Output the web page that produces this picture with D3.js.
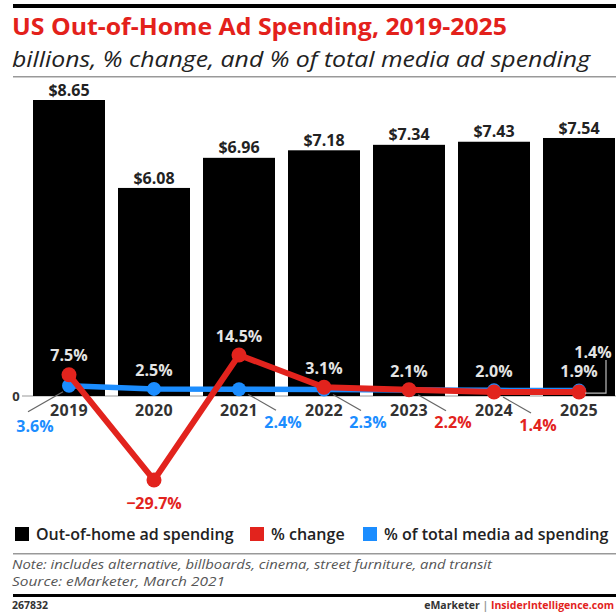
<!DOCTYPE html>
<html>
<head>
<meta charset="utf-8">
<script src="https://cdn.jsdelivr.net/npm/d3@7"></script>
<style>
  body { margin: 0; background: #fff; }
  svg { display: block; font-family: "Open Sans", sans-serif; }
</style>
</head>
<body>
<script>
// chart values
var years = ['2019', '2020', '2021', '2022', '2023', '2024', '2025'];
var spending = [8.65, 6.08, 6.96, 7.18, 7.34, 7.43, 7.54];
var pctChange = [7.5, -29.7, 14.5, 3.1, 2.2, 1.4, 1.4];
var pctTotal = [3.6, 2.5, 2.4, 2.3, 2.1, 2.0, 1.9];
var yTicks = [0];
var legendLabels = ['Out-of-home ad spending', '% change', '% of total media ad spending'];

// where each point label goes
var changePlace = ['above', 'below', 'above', 'above', 'right', 'right', 'bracket'];
var totalPlace = ['left', 'above', 'right', 'right', 'above', 'above', 'above'];

var width = 616, height = 612;
var red = '#e2231d', blue = '#1b8dff', light = '#e4e4e4';
var lblSize = '16px';

var svg = d3.select('body').append('svg')
    .attr('width', width)
    .attr('height', height);

// header
svg.append('rect').attr('x', 13).attr('y', 4).attr('width', width - 13).attr('height', 4).attr('fill', '#000');
svg.append('text')
    .attr('x', 12).attr('y', 35)
    .attr('fill', '#e3211b')
    .attr('textLength', 495).attr('lengthAdjust', 'spacingAndGlyphs')
    .style('font-size', '23px').style('font-weight', 700)
    .text('US Out-of-Home Ad Spending, 2019-2025');
svg.append('text')
    .attr('x', 12).attr('y', 67)
    .attr('fill', '#222')
    .attr('textLength', 578).attr('lengthAdjust', 'spacingAndGlyphs')
    .style('font-size', '21px').style('font-style', 'italic')
    .text('billions, % change, and % of total media ad spending');
svg.append('rect').attr('x', 13).attr('y', 76).attr('width', width - 13).attr('height', 1.5).attr('fill', '#999');

// scales
var x = d3.scaleBand().domain(years).range([33, 615]).paddingInner(13 / 85).paddingOuter(0);
var yBar = d3.scaleLinear().domain([0, 8.65]).range([396, 100]);
var yPct = d3.scaleLinear().domain([-30, 15]).range([396 + 30 * 2.83, 396 - 15 * 2.83]);
var cx = function(i) { return x(years[i]) + x.bandwidth() / 2; };

// baseline + zero tick
svg.append('line').attr('x1', 22).attr('x2', width).attr('y1', yBar(0)).attr('y2', yBar(0))
    .attr('stroke', '#999').attr('stroke-width', 1);
svg.selectAll('.ytick').data(yTicks).enter().append('text')
    .attr('x', 16).attr('y', function(d) { return yBar(d); }).attr('dy', '0.35em')
    .attr('text-anchor', 'middle').attr('fill', '#333')
    .style('font-size', '13px').style('font-weight', 700)
    .text(function(d) { return d; });

// bars
svg.selectAll('.bar').data(spending).enter().append('rect')
    .attr('x', function(d, i) { return x(years[i]); })
    .attr('y', function(d) { return yBar(d); })
    .attr('width', x.bandwidth())
    .attr('height', function(d) { return yBar(0) - yBar(d); })
    .attr('fill', '#000');

svg.selectAll('.barlbl').data(spending).enter().append('text')
    .attr('x', function(d, i) { return cx(i); })
    .attr('y', function(d) { return yBar(d) - 10; }).attr('dy', '0.35em')
    .attr('text-anchor', 'middle').attr('fill', '#222')
    .style('font-size', lblSize).style('font-weight', 700)
    .text(function(d) { return '$' + d.toFixed(2); });

// year labels
svg.selectAll('.year').data(years).enter().append('text')
    .attr('x', function(d) { return x(d) + x.bandwidth() / 2; })
    .attr('y', 410).attr('dy', '0.35em')
    .attr('text-anchor', 'middle').attr('fill', '#333')
    .style('font-size', lblSize).style('font-weight', 700)
    .style('letter-spacing', '0.3px')
    .text(function(d) { return d; });

// lines
var line = d3.line().x(function(d, i) { return cx(i); }).y(function(d) { return yPct(d); });

function drawSeries(vals, color, lw, r) {
  svg.append('path').datum(vals)
      .attr('d', line)
      .attr('fill', 'none').attr('stroke', color)
      .attr('stroke-width', lw).attr('stroke-linejoin', 'round');
  svg.selectAll(null).data(vals).enter().append('circle')
      .attr('cx', function(d, i) { return cx(i); })
      .attr('cy', function(d) { return yPct(d); })
      .attr('r', r).attr('fill', color);
}
drawSeries(pctTotal, blue, 5.5, 7);
drawSeries(pctChange, red, 6, 7.5);

function drawLabels(vals, places, color) {
  vals.forEach(function(v, i) {
    var px = cx(i), py = yPct(v), p = places[i];
    var lx = px, ly = py, fill = light;
    if (p === 'above') { ly = py - 19; }
    else if (p === 'below') { ly = py + 23; fill = color; }
    else if (p === 'right') {
      svg.append('line').attr('x1', px + 9).attr('y1', py + 5).attr('x2', px + 37).attr('y2', py + 21)
          .attr('stroke', '#666').attr('stroke-width', 1.2);
      lx = px + 44; ly = py + 33; fill = color;
    } else if (p === 'left') {
      svg.append('line').attr('x1', px - 6).attr('y1', py + 6).attr('x2', px - 41).attr('y2', py + 26)
          .attr('stroke', '#666').attr('stroke-width', 1.2);
      lx = px - 34; ly = py + 41; fill = color;
    } else if (p === 'bracket') {
      svg.append('path')
          .attr('d', 'M' + (px + 6) + ',' + (py + 1) + 'H' + (px + 27) + 'V' + (py - 32))
          .attr('fill', 'none').attr('stroke', '#bbb').attr('stroke-width', 1.2);
      lx = px + 14; ly = py - 40;
    }
    svg.append('text')
        .attr('x', lx).attr('y', ly).attr('dy', '0.35em')
        .attr('text-anchor', 'middle').attr('fill', fill)
        .style('font-size', lblSize).style('font-weight', 700)
        .text(d3.format('.1f')(v) + '%');
  });
}
drawLabels(pctTotal, totalPlace, blue);
drawLabels(pctChange, changePlace, red);

// legend
var legendColors = ['#000', red, blue];
var legendX = [15, 250, 363];
var lg = svg.selectAll('.lg').data(legendLabels).enter().append('g')
    .attr('transform', function(d, i) { return 'translate(' + legendX[i] + ',534)'; });
lg.append('rect').attr('x', 0).attr('y', -7).attr('width', 14).attr('height', 14)
    .attr('fill', function(d, i) { return legendColors[i]; });
lg.append('text').attr('x', 21).attr('dy', '0.35em').attr('fill', '#222')
    .style('font-size', '16px').style('font-weight', 600)
    .text(function(d) { return d; });

// footer
svg.append('rect').attr('x', 13).attr('y', 553).attr('width', width - 13).attr('height', 1.5).attr('fill', '#999');
svg.append('text').attr('x', 12).attr('y', 569).attr('fill', '#555')
    .attr('textLength', 480).attr('lengthAdjust', 'spacingAndGlyphs')
    .style('font-size', '12.5px').style('font-style', 'italic')
    .text('Note: includes alternative, billboards, cinema, street furniture, and transit');
svg.append('text').attr('x', 12).attr('y', 586).attr('fill', '#555')
    .attr('textLength', 213).attr('lengthAdjust', 'spacingAndGlyphs')
    .style('font-size', '12.5px').style('font-style', 'italic')
    .text('Source: eMarketer, March 2021');
svg.append('rect').attr('x', 13).attr('y', 594).attr('width', width - 13).attr('height', 3).attr('fill', '#000');
svg.append('text').attr('x', 12).attr('y', 609).attr('fill', '#333')
    .style('font-size', '10.5px').style('font-weight', 700)
    .text('267832');
var brand = svg.append('text').attr('x', 614).attr('y', 609).attr('text-anchor', 'end')
    .style('font-size', '10.5px').style('font-weight', 700);
brand.append('tspan').attr('fill', '#333').text('eMarketer');
brand.append('tspan').attr('fill', '#999').text(' | ');
brand.append('tspan').attr('fill', red).text('InsiderIntelligence.com');
</script>
</body>
</html>
